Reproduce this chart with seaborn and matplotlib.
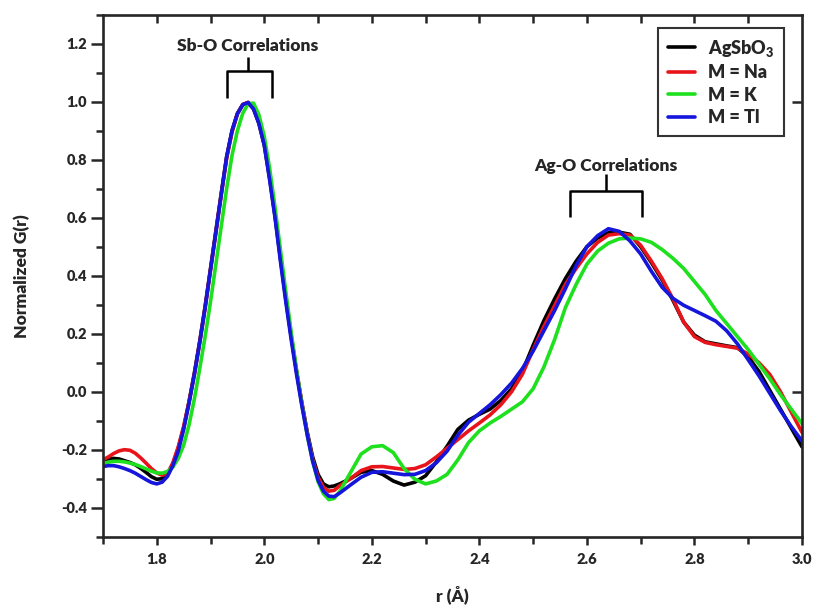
"""
Normalized G(r) for AgSbO3 and the M-substituted samples (PDF, short r range).
"""

import numpy as np
import pandas as pd
import matplotlib
matplotlib.use("Agg")
import matplotlib.pyplot as plt
from matplotlib.ticker import MultipleLocator
import seaborn as sns

# ─── Data ─────────────────────────────────────────────────────────────
r = np.round(np.concatenate([
    np.arange(1.70, 2.135, 0.01),
    np.arange(2.14, 3.005, 0.02),
]), 2)

g_agsbo3 = [
    -0.235, -0.232, -0.230, -0.232, -0.238, -0.244, -0.252, -0.264,
    -0.278, -0.293, -0.302, -0.300, -0.285, -0.250, -0.195,
    -0.125, -0.035, 0.065, 0.175, 0.295, 0.425, 0.555, 0.685, 0.81, 0.90,
    0.96, 0.99, 0.997, 0.975, 0.925, 0.85, 0.735, 0.605, 0.46, 0.32,
    0.19, 0.07, -0.04, -0.14, -0.225, -0.285, -0.318, -0.328, -0.325,
    -0.318, -0.300, -0.278, -0.272, -0.285, -0.308, -0.322, -0.312, -0.290,
    -0.242, -0.188, -0.130, -0.098, -0.078, -0.060, -0.030, 0.010, 0.070,
    0.160, 0.245, 0.320, 0.390, 0.450, 0.500, 0.530, 0.548, 0.550, 0.543,
    0.500, 0.445, 0.385, 0.315, 0.240, 0.195, 0.172, 0.165, 0.158, 0.152,
    0.120, 0.070, 0.005, -0.060, -0.125, -0.190,
]
g_na = [
    -0.235, -0.225, -0.213, -0.204, -0.200, -0.202, -0.212, -0.228,
    -0.246, -0.265, -0.280, -0.288, -0.282, -0.245, -0.190,
    -0.12, -0.035, 0.06, 0.17, 0.29, 0.42, 0.55, 0.68, 0.805, 0.895,
    0.958, 0.99, 0.998, 0.978, 0.93, 0.86, 0.745, 0.615, 0.47, 0.33,
    0.195, 0.07, -0.04, -0.145, -0.235, -0.295, -0.33, -0.343, -0.34,
    -0.325, -0.300, -0.272, -0.259, -0.258, -0.263, -0.268, -0.265, -0.252,
    -0.225, -0.195, -0.165, -0.135, -0.108, -0.080, -0.045, 0.000, 0.060,
    0.145, 0.225, 0.297, 0.370, 0.425, 0.475, 0.515, 0.540, 0.545, 0.540,
    0.505, 0.450, 0.390, 0.320, 0.240, 0.190, 0.170, 0.162, 0.156, 0.150,
    0.130, 0.100, 0.060, 0.000, -0.070, -0.140,
]
g_k = [
    -0.248, -0.243, -0.240, -0.240, -0.242, -0.246, -0.251, -0.258,
    -0.266, -0.274, -0.280, -0.281, -0.275, -0.260, -0.230,
    -0.185, -0.115, -0.025, 0.08, 0.19, 0.31, 0.44, 0.57, 0.70, 0.815,
    0.90, 0.96, 0.993, 0.995, 0.955, 0.88, 0.77, 0.635, 0.49, 0.345,
    0.205, 0.075, -0.045, -0.15, -0.24, -0.31, -0.352, -0.372, -0.368,
    -0.345, -0.280, -0.215, -0.190, -0.186, -0.210, -0.265, -0.302, -0.318,
    -0.308, -0.285, -0.235, -0.175, -0.135, -0.108, -0.085, -0.060, -0.035,
    0.010, 0.085, 0.180, 0.290, 0.370, 0.440, 0.485, 0.512, 0.527, 0.530,
    0.527, 0.515, 0.490, 0.460, 0.425, 0.380, 0.335, 0.280, 0.235, 0.190,
    0.145, 0.095, 0.045, -0.010, -0.060, -0.110,
]
g_tl = [
    -0.258, -0.255, -0.255, -0.259, -0.265, -0.272, -0.281, -0.292,
    -0.303, -0.313, -0.318, -0.312, -0.292, -0.255, -0.205,
    -0.13, -0.04, 0.06, 0.17, 0.29, 0.42, 0.55, 0.68, 0.81, 0.90,
    0.958, 0.99, 0.997, 0.975, 0.925, 0.85, 0.73, 0.60, 0.45, 0.31,
    0.18, 0.06, -0.05, -0.15, -0.24, -0.305, -0.343, -0.36, -0.362,
    -0.350, -0.322, -0.295, -0.278, -0.276, -0.281, -0.286, -0.285, -0.272,
    -0.245, -0.205, -0.150, -0.105, -0.075, -0.045, -0.010, 0.030, 0.080,
    0.140, 0.210, 0.280, 0.355, 0.435, 0.500, 0.538, 0.562, 0.553, 0.520,
    0.475, 0.415, 0.360, 0.322, 0.298, 0.280, 0.262, 0.243, 0.210, 0.165,
    0.110, 0.055, -0.005, -0.065, -0.120, -0.170,
]

series_names = ["AgSbO$_3$", "M = Na", "M = K", "M = Tl"]
series_values = [g_agsbo3, g_na, g_k, g_tl]
colors = ["#000000", "#e8141b", "#1ee01e", "#1515dc"]

# annotation brackets: (label, left, stem, right, y_bar, y_leg, y_top, y_text)
SBO = ("Sb-O Correlations", 1.931, 1.969, 2.015, 1.107, 1.013, 1.154, 1.192)
AGO = ("Ag-O Correlations", 2.568, 2.635, 2.702, 0.693, 0.602, 0.751, 0.779)

WEIGHT = "heavy"


def build_frame():
    frames = []
    for name, vals in zip(series_names, series_values):
        frames.append(pd.DataFrame({"r": r, "G": vals, "sample": name}))
    return pd.concat(frames, ignore_index=True)


def draw_bracket(ax, spec):
    label, left, stem, right, y_bar, y_leg, y_top, y_text = spec
    kw = dict(color="black", lw=1.8, solid_capstyle="butt", clip_on=False)
    ax.plot([left, left, right, right], [y_leg, y_bar, y_bar, y_leg], **kw)
    ax.plot([stem, stem], [y_bar, y_top], **kw)
    ax.text(stem, y_text, label, ha="center", va="center",
            fontsize=12.5, fontweight=WEIGHT)


def main():
    sns.set_style("ticks")
    plt.rcParams["font.family"] = ["Lato", "DejaVu Sans"]
    plt.rcParams["font.weight"] = WEIGHT
    plt.rcParams["mathtext.fontset"] = "custom"
    plt.rcParams["mathtext.rm"] = "Lato:heavy"
    plt.rcParams["mathtext.it"] = "Lato:heavy"
    plt.rcParams["mathtext.bf"] = "Lato:heavy"

    df = build_frame()

    fig = plt.figure(figsize=(8.16, 6.05), dpi=100)
    ax = fig.add_axes([0.1262, 0.1129, 0.8566, 0.8628])

    sns.lineplot(data=df, x="r", y="G", hue="sample", hue_order=series_names,
                 palette=colors, estimator=None, sort=False, lw=2.6,
                 legend=False, ax=ax)

    ax.set_xlim(1.7, 3.0)
    ax.set_ylim(-0.5, 1.3)

    ax.xaxis.set_major_locator(MultipleLocator(0.2))
    ax.xaxis.set_minor_locator(MultipleLocator(0.1))
    ax.yaxis.set_major_locator(MultipleLocator(0.2))
    ax.yaxis.set_minor_locator(MultipleLocator(0.1))
    ax.xaxis.set_major_formatter(lambda v, p: f"{v:.1f}")
    ax.yaxis.set_major_formatter(lambda v, p: f"{v:.1f}")

    for s in ax.spines.values():
        s.set_linewidth(1.9)
    ax.tick_params(axis="x", which="major", direction="out", length=6, width=1.8,
                   labelsize=10.5, pad=6)
    ax.tick_params(axis="x", which="minor", direction="out", length=5, width=1.8)
    ax.tick_params(axis="y", which="major", direction="out", length=8.5, width=1.8,
                   labelsize=10.5, pad=3)
    ax.tick_params(axis="y", which="minor", direction="out", length=5, width=1.8)
    for lab in ax.get_xticklabels() + ax.get_yticklabels():
        lab.set_fontweight(WEIGHT)

    top = ax.secondary_xaxis("top")
    top.set_xticks(np.round(np.arange(1.8, 3.0, 0.1), 1))
    top.tick_params(direction="in", length=6, width=1.8, labeltop=False)
    right = ax.secondary_yaxis("right")
    right.set_yticks([0.0, 1.0])
    right.tick_params(direction="in", length=7, width=1.8, labelright=False)

    ax.set_xlabel("r (Å)", fontsize=12.5, fontweight=WEIGHT, labelpad=14)
    ax.set_ylabel("Normalized G(r)", fontsize=12.5, fontweight=WEIGHT, labelpad=22)

    draw_bracket(ax, SBO)
    draw_bracket(ax, AGO)

    handles = [plt.Line2D([], [], color=c, lw=2.6) for c in colors]
    leg = ax.legend(handles, series_names, loc="upper right",
                    bbox_to_anchor=(0.975, 0.975), frameon=True, fancybox=False,
                    edgecolor="black", fontsize=13, handlelength=1.5,
                    handletextpad=0.7, labelspacing=0.3, borderpad=0.55,
                    borderaxespad=0)
    leg.get_frame().set_linewidth(1.5)
    for t in leg.get_texts():
        t.set_fontweight(WEIGHT)

    fig.savefig("out.png", dpi=100)


if __name__ == "__main__":
    main()
